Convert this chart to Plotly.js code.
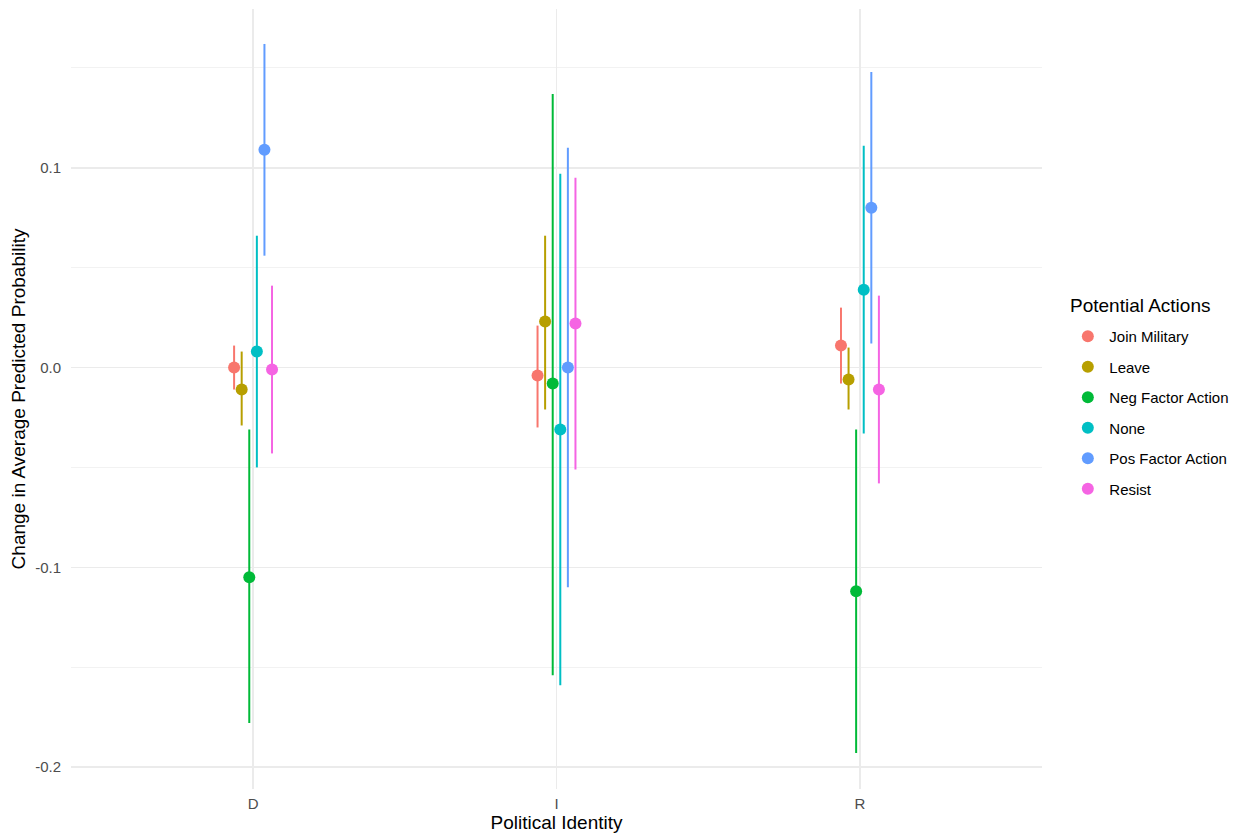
<!DOCTYPE html>
<html>
<head>
<meta charset="utf-8">
<script src="https://cdn.plot.ly/plotly-3.0.1.min.js"></script>
<style>html,body{margin:0;padding:0;background:#fff;}#chart{width:1242px;height:837px;}</style>
</head>
<body>
<div id="chart"></div>
<script>
// Categories (x axis) and tick labels
const categories = ['D', 'I', 'R'];
const actions = ['Join Military', 'Leave', 'Neg Factor Action', 'None', 'Pos Factor Action', 'Resist'];
const colors = ['#F8766D', '#B79F00', '#00BA38', '#00BFC4', '#619CFF', '#F564E3'];
const legendTitle = 'Potential Actions';

// Estimates and 95% interval bounds per action, ordered D, I, R
const joinMilitaryEst = [0.000, -0.004, 0.011];
const joinMilitaryLo  = [-0.011, -0.030, -0.008];
const joinMilitaryHi  = [0.011, 0.021, 0.030];

const leaveEst = [-0.011, 0.023, -0.006];
const leaveLo  = [-0.029, -0.021, -0.021];
const leaveHi  = [0.008, 0.066, 0.010];

const negFactorEst = [-0.105, -0.008, -0.112];
const negFactorLo  = [-0.178, -0.154, -0.193];
const negFactorHi  = [-0.031, 0.137, -0.031];

const noneEst = [0.008, -0.031, 0.039];
const noneLo  = [-0.050, -0.159, -0.033];
const noneHi  = [0.066, 0.097, 0.111];

const posFactorEst = [0.109, 0.000, 0.080];
const posFactorLo  = [0.056, -0.110, 0.012];
const posFactorHi  = [0.162, 0.110, 0.148];

const resistEst = [-0.001, 0.022, -0.011];
const resistLo  = [-0.043, -0.051, -0.058];
const resistHi  = [0.041, 0.095, 0.036];

const yTickVals = [-0.2, -0.1, 0.0, 0.1];
const yTickText = ['-0.2', '-0.1', '0.0', '0.1'];
const yMinorVals = [-0.15, -0.05, 0.05, 0.15];

const series = [
  [joinMilitaryEst, joinMilitaryLo, joinMilitaryHi],
  [leaveEst, leaveLo, leaveHi],
  [negFactorEst, negFactorLo, negFactorHi],
  [noneEst, noneLo, noneHi],
  [posFactorEst, posFactorLo, posFactorHi],
  [resistEst, resistLo, resistHi]
];

const dodgeWidth = 0.15;
const n = actions.length;
const font = '"Liberation Sans", Arial, Helvetica, sans-serif';

const traces = series.map((s, i) => {
  const [est, lo, hi] = s;
  const xs = categories.map((c, k) => (k + 1) + (i - (n - 1) / 2) * (dodgeWidth / n));
  return {
    type: 'scatter',
    mode: 'markers',
    name: actions[i],
    legendgroup: actions[i],
    x: xs,
    y: est,
    marker: { color: colors[i], size: 12 },
    error_y: {
      type: 'data',
      symmetric: false,
      array: est.map((v, k) => hi[k] - v),
      arrayminus: est.map((v, k) => v - lo[k]),
      width: 0,
      thickness: 2,
      color: colors[i]
    },
    hoverinfo: 'x+y+name'
  };
});

const layout = {
  width: 1242,
  height: 837,
  paper_bgcolor: '#ffffff',
  plot_bgcolor: '#ffffff',
  margin: { l: 71, r: 199, t: 9, b: 48 },
  font: { family: font, color: '#000000' },
  xaxis: {
    range: [0.4, 3.6],
    tickmode: 'array',
    tickvals: [1, 2, 3],
    ticktext: categories,
    showgrid: true,
    gridcolor: '#EBEBEB',
    gridwidth: 1.5,
    zeroline: false,
    showline: false,
    ticks: '',
    ticklabelstandoff: 4,
    tickfont: { size: 15, color: '#4D4D4D', family: font },
    title: { text: 'Political Identity', font: { size: 19, color: '#000000', family: font }, standoff: 4 },
    automargin: false
  },
  yaxis: {
    range: [-0.211, 0.1795],
    tickmode: 'array',
    tickvals: yTickVals,
    ticktext: yTickText,
    showgrid: true,
    gridcolor: '#EBEBEB',
    gridwidth: 1.5,
    minor: { tickmode: 'array', tickvals: yMinorVals, showgrid: true, gridcolor: '#EFEFEF', gridwidth: 0.8, ticks: '' },
    zeroline: false,
    showline: false,
    ticks: '',
    ticklabelstandoff: 9,
    tickfont: { size: 15, color: '#4D4D4D', family: font },
    title: { text: 'Change in Average Predicted Probability', font: { size: 19, color: '#000000', family: font }, standoff: 4 },
    automargin: false
  },
  annotations: [{
    text: legendTitle,
    xref: 'paper', yref: 'paper',
    x: (1069 - 71) / 972, y: (789 - 305) / 780,
    xanchor: 'left', yanchor: 'middle',
    showarrow: false,
    font: { size: 19, color: '#000000', family: font }
  }],
  showlegend: true,
  legend: {
    x: 1.024,
    xanchor: 'left',
    y: (789 - 320) / 780,
    yanchor: 'top',
    traceorder: 'grouped',
    tracegroupgap: 8,
    itemwidth: 33,
    font: { size: 15, color: '#000000', family: font },
    bgcolor: 'rgba(0,0,0,0)',
    borderwidth: 0
  }
};

Plotly.newPlot('chart', traces, layout, { displayModeBar: false, staticPlot: true });
</script>
</body>
</html>
